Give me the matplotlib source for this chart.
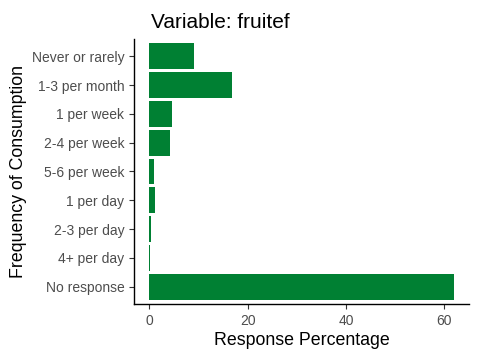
import matplotlib
matplotlib.use("Agg")
import matplotlib.pyplot as plt

categories = ["Never or rarely", "1-3 per month", "1 per week", "2-4 per week",
              "5-6 per week", "1 per day", "2-3 per day", "4+ per day", "No response"]
percent = [9.15, 16.9, 4.7, 4.3, 1.0, 1.2, 0.4, 0.2, 61.9]
xticks = [0, 20, 40, 60]

plt.rcParams['font.family'] = ['Liberation Sans', 'DejaVu Sans']

fig = plt.figure(figsize=(4.8, 3.6), dpi=100)
ax = fig.add_axes([134/480, 1 - 304/360, (469-134)/480, (304-39)/360])

n = len(categories)
ypos = list(range(n, 0, -1))
ax.barh(ypos, percent, height=0.9, color='#008033')

ax.set_xlim(-0.05*max(percent), 1.05*max(percent))
ax.set_ylim(0.4, n + 0.6)
ax.set_xticks(xticks)
ax.set_yticks(ypos)
ax.set_yticklabels(categories)

for s in ['top', 'right']:
    ax.spines[s].set_visible(False)
for s in ['left', 'bottom']:
    ax.spines[s].set_linewidth(1.0)
ax.tick_params(axis='both', colors='#333333', labelcolor='#4D4D4D', labelsize=10, length=3.5, width=0.8)

ax.set_xlabel("Response Percentage", fontsize=12.8, color='black', labelpad=3)
ax.set_ylabel("Frequency of Consumption", fontsize=12.8, color='black', labelpad=3)
fig.text(151/480, 1 - 28/360, "Variable: fruitef", fontsize=15, color='black')

fig.savefig("out.png", dpi=100)
